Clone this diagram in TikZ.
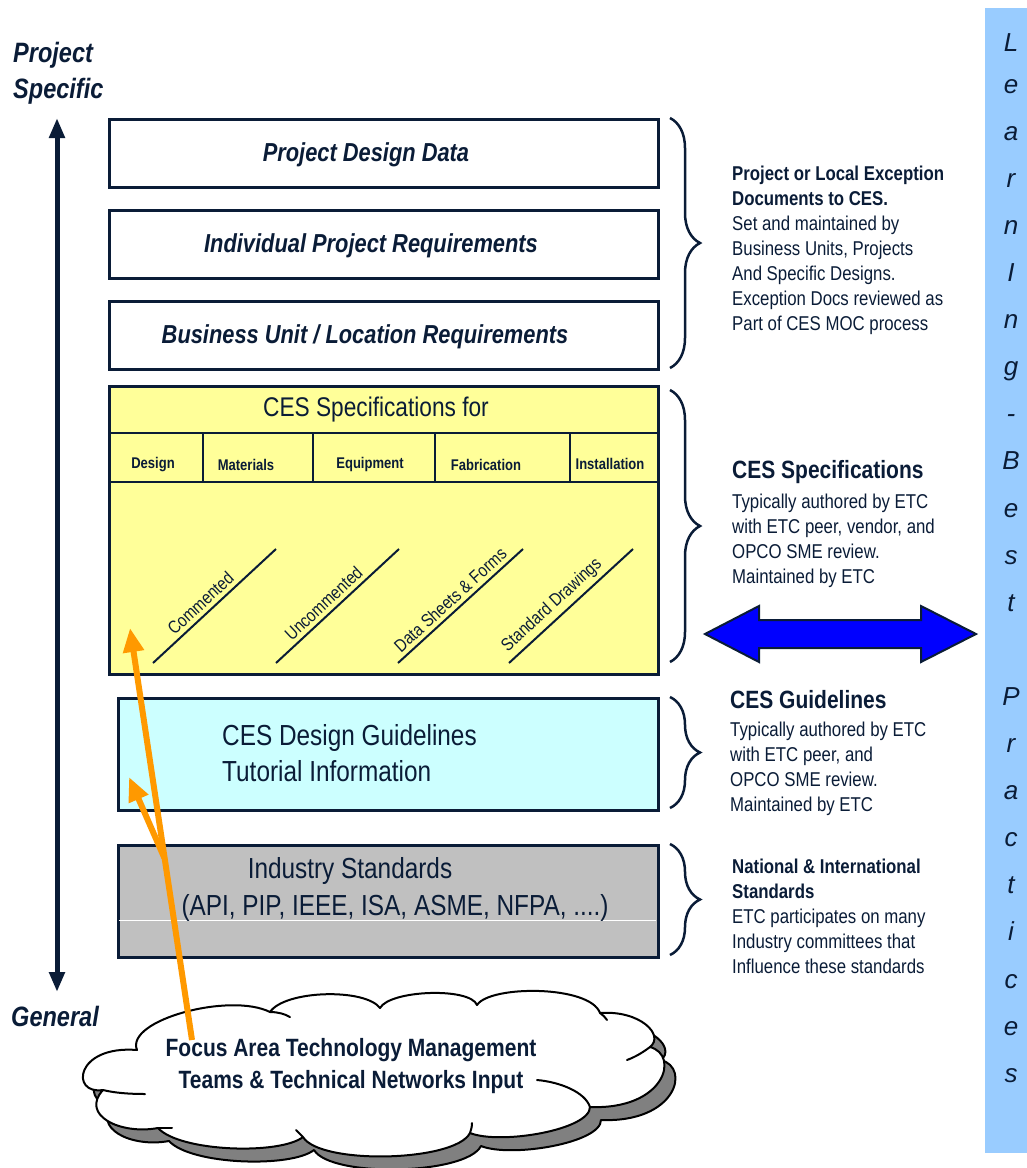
\documentclass[tikz,border=0pt]{standalone}
\usepackage{fontspec}
\setmainfont{Liberation Sans}[FakeStretch=0.84]
\newfontfamily\widefont{Liberation Sans}
\usetikzlibrary{arrows.meta,decorations.pathreplacing}
\definecolor{navy}{RGB}{10,28,55}
\definecolor{specyellow}{RGB}{255,255,153}
\definecolor{guidecyan}{RGB}{204,255,255}
\definecolor{stdgray}{RGB}{192,192,192}
\definecolor{colblue}{RGB}{153,204,255}
\definecolor{orangearr}{RGB}{255,153,0}
\definecolor{arrowblue}{RGB}{0,0,255}
\definecolor{shadowgray}{RGB}{128,128,128}
\newcommand\fsz[2]{\fontsize{#1}{#2}\selectfont}
\newcommand\cloudoutline{(103,1090) .. controls (70,1095) and (75,1045) .. (137,1050)
  .. controls (125,1020) and (230,992) .. (270,1012)
  .. controls (285,990) and (365,988) .. (380,1008)
  .. controls (390,990) and (470,987) .. (477,1005)
  .. controls (490,985) and (590,985) .. (600,1013)
  .. controls (640,1010) and (665,1035) .. (650,1047)
  .. controls (680,1055) and (665,1110) .. (590,1107)
  .. controls (590,1130) and (500,1145) .. (470,1133)
  .. controls (455,1162) and (320,1165) .. (303,1137)
  .. controls (280,1155) and (180,1152) .. (158,1128)
  .. controls (120,1135) and (80,1115) .. (103,1090) -- cycle}
\begin{document}
\begin{tikzpicture}[x=1pt,y=-1pt,
  layerbox/.style={draw=navy,line width=2.5pt,minimum width=549pt,minimum height=68pt,inner sep=0pt,anchor=north west},
  boxlabel/.style={text=navy,inner sep=0pt,font=\fsz{26}{30}\bfseries\itshape},
  sublabel/.style={text=navy,inner sep=0pt,font=\fsz{15.5}{18}\bfseries},
  diaglabel/.style={text=navy,font=\fsz{18}{21},sloped,above,inner sep=4pt},
  sidehead/.style={text=navy,inner sep=0pt,anchor=west,font=\fsz{25}{30}\bfseries},
  sidebody/.style={text=navy,inner sep=0pt,anchor=north west,align=left,font=\fsz{20}{25}},
  bracestyle/.style={draw=navy,line width=2.5pt,decorate,decoration={brace,amplitude=30pt,aspect=0.5}},
  orangearrow/.style={draw=orangearr,line width=6pt,-{Triangle[length=24pt,width=20pt]}},
  letter/.style={text=navy,font=\widefont\itshape\fsz{26}{30},inner sep=0pt,anchor=base},
  cloudline/.style={draw=black,line width=2pt,line cap=round,line join=round}
]
\useasboundingbox (0,0) rectangle (1027,1168);

% right column
\fill[colblue] (985,8) rectangle (1027,1153);
\node[letter] (col0) at (1011,51) {L};
\foreach \ch [count=\i from 1] in {e,a,r,n,I,n,g,-,B,e,s,t,{},P,r,a,c,t,i,c,e,s}
  \node[letter] (col\i) at (1011,{46+47.1*\i}) {\ch};

% vertical axis arrow
\coordinate (axtop) at (57,118);
\coordinate (axbot) at (57,992);
\draw[navy,line width=5pt,{Triangle[length=20pt,width=15pt]}-{Triangle[length=20pt,width=15pt]}] (axbot) -- (axtop);
\node[text=navy,font=\fsz{28}{36}\bfseries\itshape,align=left,inner sep=0pt,anchor=north west] (projspec) at (13,42) {Project\\Specific};
\node[text=navy,font=\fsz{28}{34}\bfseries\itshape,inner sep=0pt] (general) at (55,1016) {General};

% top layer boxes
\node[layerbox,fill=white] (pdd) at (108,118) {};
\node[boxlabel] (pddt) at (366,155) {Project Design Data};
\node[layerbox,fill=white] (ipr) at (108,209) {};
\node[boxlabel] (iprt) at (371,246) {Individual Project Requirements};
\node[layerbox,fill=white] (bul) at (108,300) {};
\node[boxlabel] (bult) at (365,337) {Business Unit / Location Requirements};

% CES spec box
\node[layerbox,fill=specyellow,minimum height=288pt] (spec) at (108,385) {};
\node[text=navy,inner sep=0pt,font=\fsz{27}{32}] (spechead) at (376,410) {CES Specifications for};
\draw[navy,line width=2.5pt] (108,433) -- (657,433);
\draw[navy,line width=2.5pt] (108,482) -- (657,482);
\foreach \xx in {203,313,435,570} \draw[navy,line width=2.5pt] (\xx,433) -- (\xx,482);
\node[sublabel] (sdesign) at (153,465) {Design};
\node[sublabel] (smat) at (246,465) {Materials};
\node[sublabel] (sequip) at (370,464) {Equipment};
\node[sublabel] (sfab) at (486,465) {Fabrication};
\node[sublabel] (sinst) at (610,464) {Installation};
\draw[navy,line width=2pt] (153,663) -- node[diaglabel,pos=0.45] (dcom) {Commented} (276,549);
\draw[navy,line width=2pt] (276,663) -- node[diaglabel,pos=0.45] (dunc) {Uncommented} (399,549);
\draw[navy,line width=2pt] (398,663) -- node[diaglabel,pos=0.48] (dds) {Data Sheets \& Forms} (523,549);
\draw[navy,line width=2pt] (509,663) -- node[diaglabel,pos=0.42] (dsd) {Standard Drawings} (633,549);

% guidelines box
\node[layerbox,fill=guidecyan,minimum width=540pt,minimum height=112pt] (guide) at (117,697) {};
\node[text=navy,inner sep=0pt,anchor=north west,align=left,font=\fsz{29}{36}] (guidet) at (222,724) {CES Design Guidelines\\Tutorial Information};

% industry standards box
\node[layerbox,fill=stdgray,minimum width=540pt,minimum height=112pt] (std) at (117,844) {};
\draw[white,line width=1pt] (118.5,920) -- (655.5,920);
\node[text=navy,inner sep=0pt,font=\fsz{29}{34}] (stdt1) at (350,871) {Industry Standards};
\node[text=navy,inner sep=0pt,font=\fsz{29}{34}] (stdt2) at (395,908) {(API, PIP, IEEE, ISA, ASME, NFPA, ....)};

% braces
\draw[bracestyle] (670,118) -- (670,368);
\draw[bracestyle] (670,390) -- (670,662);
\draw[bracestyle] (670,697) -- (670,808);
\draw[bracestyle] (670,844) -- (670,955);

% side texts
\node[sidebody] (side1) at (732,166) {\textbf{Project or Local Exception}\\\textbf{Documents to CES.}\\Set and maintained by\\Business Units, Projects\\And Specific Designs.\\Exception Docs reviewed as\\Part of CES MOC process};
\node[sidehead] (side2h) at (732,472) {CES Specifications};
\node[sidebody] (side2) at (732,494) {Typically authored by ETC\\with ETC peer, vendor, and\\OPCO SME review.\\Maintained by ETC};
\node[sidehead] (side3h) at (730,700) {CES Guidelines};
\node[sidebody] (side3) at (730,722) {Typically authored by ETC\\with ETC peer, and\\OPCO SME review.\\Maintained by ETC};
\node[sidebody] (side4) at (732,859) {\textbf{National \& International}\\\textbf{Standards}\\ETC participates on many\\Industry committees that\\Influence these standards};

% blue double arrow
\draw[navy,line width=2pt,fill=arrowblue,line join=miter]
  (705,634) -- (759,606) -- (759,620) -- (921,620) -- (921,606) -- (976,634)
  -- (921,662) -- (921,648) -- (759,648) -- (759,662) -- cycle;

% cloud with shadow
\begin{scope}[shift={(11,13)}]
  \path[cloudline,fill=shadowgray] \cloudoutline;
\end{scope}
\path[cloudline,fill=white] \cloudoutline;
\draw[cloudline] (270,1012) .. controls (278,1012) and (285,1014) .. (290,1017);
\draw[cloudline] (103,1090) .. controls (115,1093) and (130,1094) .. (145,1094);
\draw[cloudline] (158,1128) -- (172,1128);
\draw[cloudline] (303,1137) .. controls (300,1134) and (298,1132) .. (296,1130);
\draw[cloudline] (470,1133) .. controls (471,1130) and (472,1127) .. (472,1123);
\draw[cloudline] (590,1107) .. controls (585,1092) and (560,1082) .. (537,1080);
\draw[cloudline] (650,1047) .. controls (642,1053) and (635,1057) .. (627,1060);
\draw[cloudline] (600,1013) .. controls (603,1015) and (605,1017) .. (607,1020);
\node[text=navy,inner sep=0pt,font=\fsz{25}{32}\bfseries] (cloudt1) at (351,1050) {Focus Area Technology Management};
\node[text=navy,inner sep=0pt,font=\fsz{25}{32}\bfseries] (cloudt2) at (351,1082) {Teams \& Technical Networks Input};

% orange arrows
\coordinate (oStart) at (192,1040);
\coordinate (oSpec) at (130,628);
\coordinate (oBranch) at (164.4,858);
\coordinate (oGuide) at (129,777);
\draw[orangearrow] (oStart) -- (oSpec);
\draw[orangearrow] (oBranch) -- (oGuide);
\end{tikzpicture}
\end{document}
